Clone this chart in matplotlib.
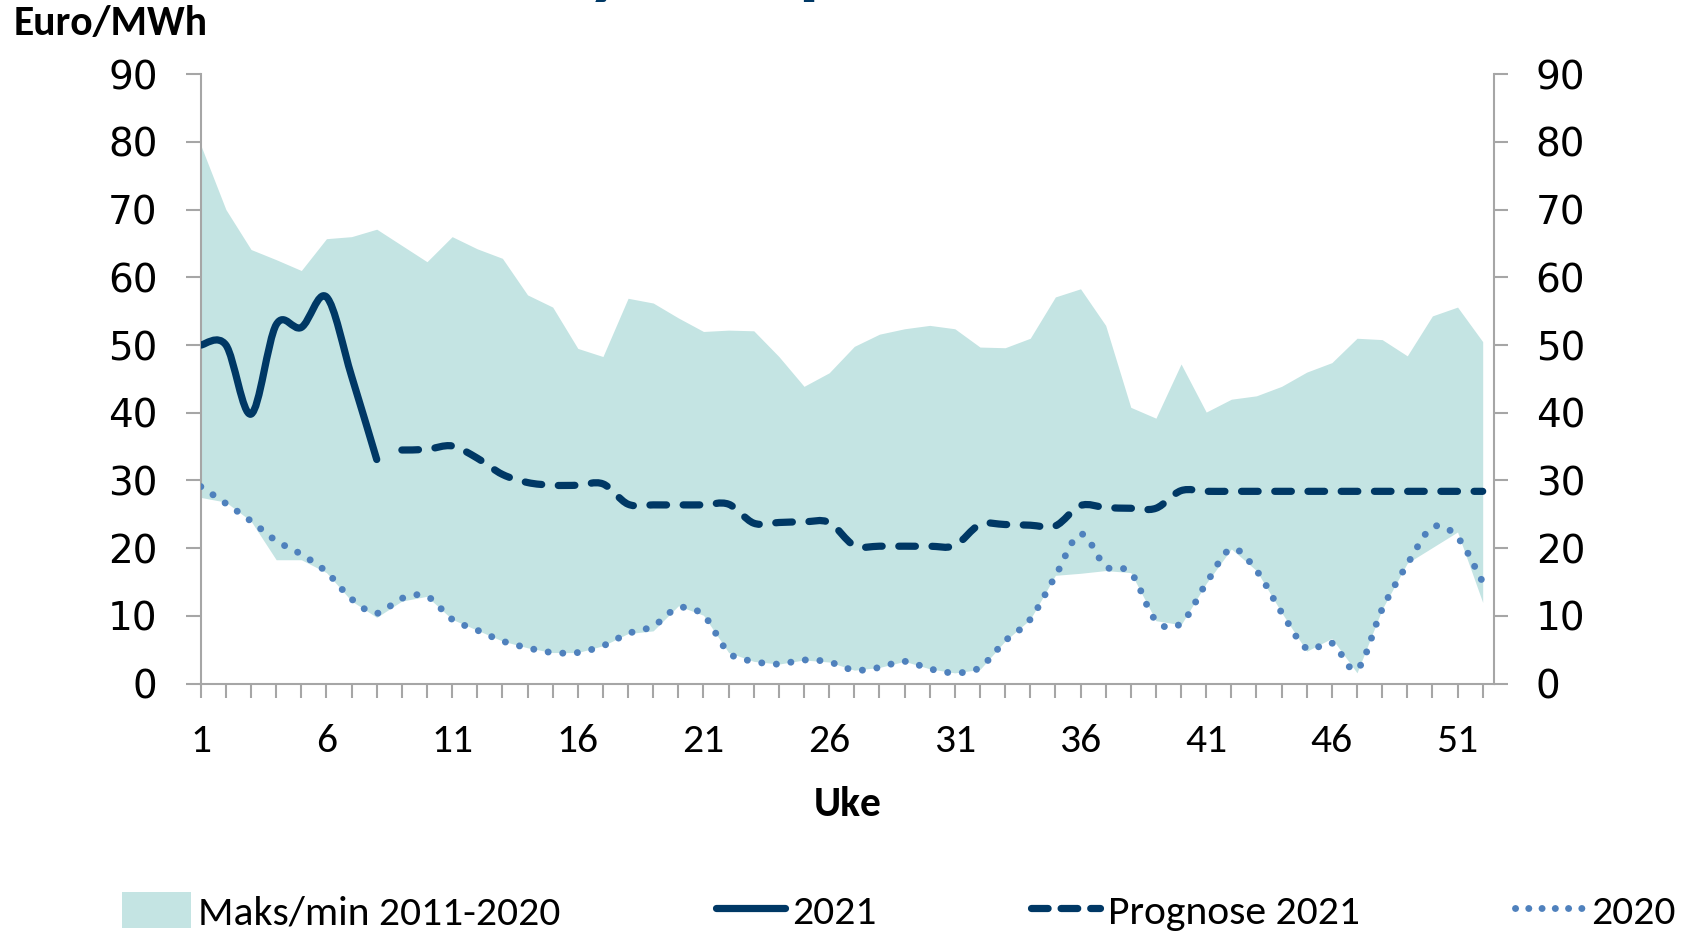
import matplotlib
matplotlib.use("Agg")
import matplotlib.pyplot as plt
from matplotlib.path import Path
from matplotlib.patches import PathPatch, Patch
from matplotlib.lines import Line2D

plt.rcParams['font.family'] = ['Carlito', 'Lato', 'DejaVu Sans']

# Data (Euro/MWh per week)
weeks = list(range(1, 53))
band_max = [79.5, 70.0, 64.1, 62.6, 61.0, 65.7, 66.0, 67.1, 64.7, 62.3,
            66.0, 64.2, 62.8, 57.4, 55.6, 49.5, 48.3, 56.9, 56.2, 54.0,
            52.0, 52.2, 52.1, 48.3, 43.9, 45.9, 49.8, 51.6, 52.4, 52.9,
            52.4, 49.7, 49.6, 51.0, 57.1, 58.3, 52.9, 40.8, 39.2, 47.2,
            40.1, 42.0, 42.5, 43.9, 46.0, 47.4, 51.0, 50.8, 48.4, 54.3, 55.6, 50.5]
band_min = [27.5, 26.8, 24.0, 18.3, 18.3, 16.4, 12.2, 9.8, 12.2, 12.9,
            9.5, 7.9, 6.3, 5.3, 4.6, 4.6, 5.6, 7.4, 7.8, 11.5,
            10.1, 4.6, 3.3, 2.9, 3.5, 3.2, 2.0, 2.4, 3.3, 2.2,
            1.6, 2.1, 6.3, 9.5, 16.0, 16.3, 16.7, 16.4, 9.3, 8.7,
            14.8, 19.9, 16.7, 10.5, 4.8, 6.7, 1.6, 11.0, 17.8, 20.1, 22.4, 12.0]
y2020 = [29.1, 26.6, 24.0, 21.1, 19.1, 16.5, 12.5, 10.4, 12.6, 12.9,
         9.5, 7.9, 6.3, 5.3, 4.6, 4.6, 5.6, 7.4, 8.5, 11.2,
         10.1, 4.6, 3.3, 2.9, 3.5, 3.2, 2.0, 2.4, 3.3, 2.2,
         1.6, 2.4, 6.3, 9.5, 15.9, 22.1, 17.3, 16.4, 9.3, 8.9,
         14.8, 19.9, 16.7, 10.5, 5.2, 6.0, 2.1, 11.0, 17.6, 23.1, 21.6, 15.0]
weeks_2021 = list(range(1, 9))
y2021 = [50.0, 50.0, 39.8, 53.0, 52.6, 57.1, 45.4, 33.1]
weeks_prog = list(range(9, 53))
prognose = [34.5, 34.6, 35.1, 33.3, 30.9, 29.7, 29.3, 29.3, 29.5, 26.5,
            26.4, 26.4, 26.4, 26.5, 23.7, 23.8, 23.9, 23.8, 20.4, 20.3,
            20.3, 20.3, 20.4, 23.5, 23.5, 23.4, 23.3, 26.3, 26.0, 25.9,
            25.9, 28.5, 28.4, 28.4, 28.4, 28.4, 28.4, 28.4, 28.4, 28.4,
            28.4, 28.4, 28.4, 28.4]
y_ticks = list(range(0, 91, 10))
x_ticks = list(range(1, 53, 5))

labels = ['Maks/min 2011-2020', '2021', 'Prognose 2021', '2020']
c_band = '#c4e4e3'
c_dark = '#003865'
c_blue = '#4f81bd'
c_axis = '#a6a6a6'


def smooth_path(x, y):
    # smoothed line like Excel (bezier through the points)
    verts = [(x[0], y[0])]
    codes = [Path.MOVETO]
    n = len(x)
    for i in range(n - 1):
        xp, yp = (x[i - 1], y[i - 1]) if i > 0 else (x[i], y[i])
        xn, yn = (x[i + 2], y[i + 2]) if i + 2 < n else (x[i + 1], y[i + 1])
        c1 = (x[i] + (x[i + 1] - xp) / 6, y[i] + (y[i + 1] - yp) / 6)
        c2 = (x[i + 1] - (xn - x[i]) / 6, y[i + 1] - (yn - y[i]) / 6)
        verts += [c1, c2, (x[i + 1], y[i + 1])]
        codes += [Path.CURVE4] * 3
    return Path(verts, codes)


fig = plt.figure(figsize=(16.83, 9.33), dpi=100)
ax = fig.add_axes([0.1193, 0.2672, 0.7684, 0.6534])

ax.fill_between(weeks, band_min, band_max, color=c_band, linewidth=0, zorder=1)

p2020 = PathPatch(smooth_path(weeks, y2020), fill=False, edgecolor=c_blue,
                  linewidth=5, linestyle=(0, (0.01, 2.1)), capstyle='round', zorder=3)
p2021 = PathPatch(smooth_path(weeks_2021, y2021), fill=False, edgecolor=c_dark,
                  linewidth=5.2, capstyle='round', joinstyle='round', zorder=4)
pprog = PathPatch(smooth_path(weeks_prog, prognose), fill=False, edgecolor=c_dark,
                  linewidth=5.2, linestyle=(0, (2.3, 2.3)), capstyle='round', zorder=4)
for p in (p2020, p2021, pprog):
    ax.add_patch(p)

ax.set_xlim(1, 52.45)
ax.set_ylim(0, 90)
# y tick labels are drawn in a wider face in the original
ax.set_yticks(y_ticks, [str(v) for v in y_ticks], fontfamily='DejaVu Sans')
ax.set_xticks(x_ticks)
ax.set_xticks(weeks, minor=True)
for s in ['top', 'right']:
    ax.spines[s].set_visible(False)
for s in ['left', 'bottom']:
    ax.spines[s].set_color(c_axis)
    ax.spines[s].set_linewidth(1.5)
ax.tick_params(axis='y', direction='out', length=11, width=1.5, color=c_axis,
               labelsize=28, pad=20)
ax.tick_params(axis='x', which='both', direction='out', length=10, width=1.5,
               color=c_axis, labelsize=30, pad=18)

ax2 = ax.twinx()
ax2.set_ylim(0, 90)
ax2.set_yticks(y_ticks, [str(v) for v in y_ticks], fontfamily='DejaVu Sans')
for s in ['top', 'left', 'bottom']:
    ax2.spines[s].set_visible(False)
ax2.spines['right'].set_color(c_axis)
ax2.spines['right'].set_linewidth(1.5)
ax2.tick_params(axis='y', direction='out', length=10, width=1.5, color=c_axis,
                labelsize=28, pad=20)

fig.text(0.008, 0.975, 'Euro/MWh', fontsize=30, fontweight='bold', va='center', ha='left')
ax.set_xlabel('Uke', fontsize=30, fontweight='bold', labelpad=20)
fig.text(0.326, 1.012, 'Systempris', fontsize=60, fontweight='bold', color=c_dark,
         ha='left', va='baseline')

handles = [Patch(facecolor=c_band, edgecolor='none'),
           Line2D([], [], color=c_dark, lw=5.2, solid_capstyle='round'),
           Line2D([], [], color=c_dark, lw=5.2, linestyle=(0, (2.3, 1.8)), dash_capstyle='round'),
           Line2D([], [], color=c_blue, lw=5, linestyle=(0, (0.01, 1.9)), dash_capstyle='round')]
fig.legend(handles, labels, loc='center', bbox_to_anchor=(0.534, 0.023), ncol=4,
           frameon=False, fontsize=30, handlelength=1.65, handleheight=0.95,
           handletextpad=0.18, columnspacing=3.72, borderpad=0)

fig.savefig('out.png', dpi=100)
